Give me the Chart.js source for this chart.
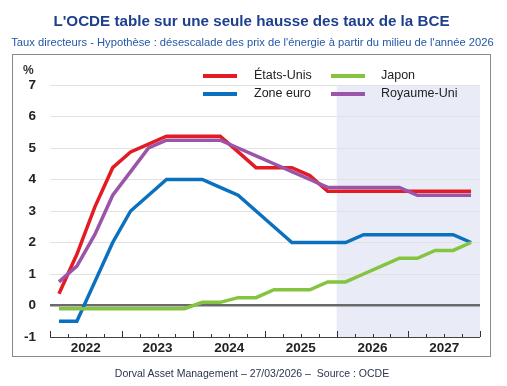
<!DOCTYPE html>
<html>
<head>
<meta charset="utf-8">
<script src="https://cdn.jsdelivr.net/npm/chart.js@4"></script>
<style>
  body { margin: 0; background: #fff; font-family: "Liberation Sans", Arial, sans-serif; }
  #wrap { position: relative; width: 507px; height: 386px; overflow: hidden; }
  #frame { position: absolute; left: 12px; top: 54px; width: 479px; height: 303px; border: 1.5px solid #8a8a8a; box-sizing: border-box; }
  canvas { position: absolute; left: 0; top: 0; }
  .t { position: absolute; white-space: nowrap; }
  #titre { left: 0; width: 503px; top: 12px; text-align: center; font-weight: bold; font-size: 15.2px; color: #1d3f8e; }
  #sous { left: 0; width: 505px; top: 36px; text-align: center; font-size: 11.2px; color: #2457a6; }
  #pct { left: 23px; top: 63px; font-size: 12px; font-weight: bold; color: #333; }
  #pied { left: 0; width: 504px; top: 367px; text-align: center; font-size: 10.5px; color: #2b3550; }
  .leg { position: absolute; font-size: 12.5px; color: #222; }
  .sw { position: absolute; width: 34px; height: 4px; }
</style>
</head>
<body>
<div id="wrap">
  <div id="frame"></div>
  <canvas id="grafica" width="507" height="386"></canvas>
  <div class="t" id="titre">L'OCDE table sur une seule hausse des taux de la BCE</div>
  <div class="t" id="sous">Taux directeurs - Hypothèse : désescalade des prix de l'énergie à partir du milieu de l'année 2026</div>
  <div class="t" id="pct">%</div>
  <div class="sw" style="left:203px; top:74px; background:#e31c24;"></div>
  <div class="leg" style="left:254px; top:68px;">États-Unis</div>
  <div class="sw" style="left:331px; top:74px; background:#84c441;"></div>
  <div class="leg" style="left:381px; top:68px;">Japon</div>
  <div class="sw" style="left:203px; top:92px; background:#0b71be;"></div>
  <div class="leg" style="left:254px; top:86px;">Zone euro</div>
  <div class="sw" style="left:331px; top:92px; background:#9c54a8;"></div>
  <div class="leg" style="left:381px; top:86px;">Royaume-Uni</div>
  <div class="t" id="pied">Dorval Asset Management – 27/03/2026 –&nbsp; Source : OCDE</div>
</div>
<script>
// trimestres 2022T1 -> 2027T4
var trimestres = ['2022T1','2022T2','2022T3','2022T4','2023T1','2023T2','2023T3','2023T4',
                  '2024T1','2024T2','2024T3','2024T4','2025T1','2025T2','2025T3','2025T4',
                  '2026T1','2026T2','2026T3','2026T4','2027T1','2027T2','2027T3','2027T4'];
var annees = ['2022','2023','2024','2025','2026','2027'];

var etatsUnis = [0.375, 1.625, 3.125, 4.375, 4.875, 5.125, 5.375, 5.375, 5.375, 5.375, 4.875, 4.375,
                 4.375, 4.375, 4.125, 3.625, 3.625, 3.625, 3.625, 3.625, 3.625, 3.625, 3.625, 3.625];
var zoneEuro = [-0.5, -0.5, 0.75, 2.0, 3.0, 3.5, 4.0, 4.0, 4.0, 3.75, 3.5, 3.0,
                2.5, 2.0, 2.0, 2.0, 2.0, 2.25, 2.25, 2.25, 2.25, 2.25, 2.25, 2.0];
var japon = [-0.1, -0.1, -0.1, -0.1, -0.1, -0.1, -0.1, -0.1, 0.1, 0.1, 0.25, 0.25,
             0.5, 0.5, 0.5, 0.75, 0.75, 1.0, 1.25, 1.5, 1.5, 1.75, 1.75, 2.0];
var royaumeUni = [0.75, 1.25, 2.25, 3.5, 4.25, 5.0, 5.25, 5.25, 5.25, 5.25, 5.0, 4.75,
                  4.5, 4.25, 4.0, 3.75, 3.75, 3.75, 3.75, 3.75, 3.5, 3.5, 3.5, 3.5];

var debutPrevision = '2026T1'; // zone grisée

function points(serie) {
    return serie.map(function (v, i) { return { x: i + 0.5, y: v }; });
}

// zone de prévision en fond
var fondPrevision = {
    id: 'fondPrevision',
    beforeDraw: function (chart) {
        var ctx = chart.ctx, a = chart.chartArea, x = chart.scales.x;
        var x0 = x.getPixelForValue(trimestres.indexOf(debutPrevision));
        ctx.save();
        ctx.fillStyle = '#e9ecf6';
        ctx.fillRect(x0, a.top, a.right - x0, a.bottom - a.top);
        ctx.restore();
    }
};

// petites graduations trimestrielles et grandes annuelles
var graduations = {
    id: 'graduations',
    afterDatasetsDraw: function (chart) {
        var ctx = chart.ctx, a = chart.chartArea, x = chart.scales.x;
        ctx.save();
        ctx.strokeStyle = '#333';
        ctx.lineWidth = 1;
        for (var q = 0; q <= trimestres.length; q++) {
            var px = Math.round(x.getPixelForValue(q)) + 0.5;
            var h = (q % 4 === 0) ? 6 : 3;
            ctx.beginPath();
            ctx.moveTo(px, a.bottom);
            ctx.lineTo(px, a.bottom - h);
            ctx.stroke();
        }
        ctx.restore();
    }
};

var gx = document.getElementById('grafica').getContext('2d');
var graf = new Chart(gx, {
    type: 'line',
    data: {
        datasets: [
            { label: 'Royaume-Uni', data: points(royaumeUni), borderColor: '#9c54a8' },
            { label: 'Japon', data: points(japon), borderColor: '#84c441' },
            { label: 'États-Unis', data: points(etatsUnis), borderColor: '#e31c24' },
            { label: 'Zone euro', data: points(zoneEuro), borderColor: '#0b71be' }
        ]
    },
    options: {
        responsive: false,
        animation: false,
        layout: { padding: { top: 85, right: 27, bottom: 29, left: 0 } },
        elements: {
            line: { borderWidth: 3.5, tension: 0, fill: false },
            point: { radius: 0 }
        },
        plugins: { legend: { display: false }, tooltip: { enabled: false } },
        scales: {
            x: {
                type: 'linear',
                min: 0,
                max: trimestres.length,
                grid: { display: false, drawTicks: false, tickLength: 0 },
                border: { display: false },
                afterFit: function (s) { s.height = 20; },
                afterBuildTicks: function (s) {
                    s.ticks = annees.map(function (a, i) { return { value: i * 4 + 2 }; });
                },
                ticks: {
                    autoSkip: false,
                    maxRotation: 0,
                    padding: 3,
                    color: '#222',
                    font: { family: 'Liberation Sans', size: 13.5, weight: 'bold' },
                    callback: function (v) { return annees[(v - 2) / 4]; }
                }
            },
            y: {
                min: -1,
                max: 7,
                border: { display: false },
                afterFit: function (s) { s.width = 50; },
                grid: {
                    drawTicks: false,
                    color: function (c) {
                        if (c.tick.value === 0) return '#6a6a6a';
                        if (c.tick.value === -1) return '#444';
                        return '#e2e2e2';
                    },
                    lineWidth: function (c) {
                        if (c.tick.value === 0) return 2.5;
                        return 1;
                    }
                },
                ticks: {
                    stepSize: 1,
                    padding: 14,
                    color: '#222',
                    font: { family: 'Liberation Sans', size: 13.5, weight: 'bold' }
                }
            }
        }
    },
    plugins: [fondPrevision, graduations]
});
</script>
</body>
</html>
